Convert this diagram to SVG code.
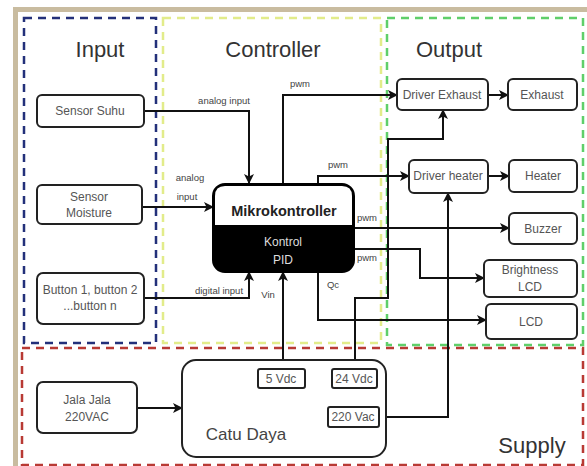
<svg xmlns="http://www.w3.org/2000/svg" width="587" height="466" viewBox="0 0 587 466">
<style>
.zone{fill:none;stroke-width:2.5;stroke-dasharray:8 6}
.title{font-family:"Liberation Sans",Arial,sans-serif;font-size:22px;fill:#333;text-anchor:middle}
.box{fill:#fff;stroke:#222;stroke-width:2}
.lbl{font-family:"Liberation Sans",Arial,sans-serif;font-size:12px;fill:#555;text-anchor:middle}
.cl{font-family:"Liberation Sans",Arial,sans-serif;font-size:9.5px;fill:#444;text-anchor:middle}
.con{fill:none;stroke:#111;stroke-width:2}
</style>
<defs>
<marker id="ah" markerUnits="userSpaceOnUse" markerWidth="10" markerHeight="10" refX="9" refY="5" orient="auto">
<path d="M0,0 L10,5 L0,10 L2.5,5 Z" fill="#111"/>
</marker>
</defs>
<rect width="587" height="466" fill="#fff"/>
<rect x="13" y="7" width="574" height="5" fill="#c9bca0"/>
<rect x="13" y="7" width="5" height="459" fill="#c9bca0"/>

<g id="zone-input"><rect class="zone" x="24" y="18" width="132" height="325" stroke="#23307a"/><text class="title" x="100" y="57">Input</text></g>
<g id="zone-controller"><rect class="zone" x="163" y="18" width="218" height="325" stroke="#e2ec8a"/><text class="title" x="273" y="57">Controller</text></g>
<g id="zone-output"><rect class="zone" x="387" y="18" width="196" height="327" stroke="#5fcf6a"/><text class="title" x="449" y="57">Output</text></g>
<g id="zone-supply"><rect class="zone" x="22" y="348" width="561" height="117" stroke="#b83a34"/><text class="title" x="532" y="453">Supply</text></g>

<g id="connectors">
<path class="con" d="M144,111 H249 V183" marker-end="url(#ah)"/>
<path class="con" d="M142,207 H213" marker-end="url(#ah)"/>
<path class="con" d="M144,298 H249 V272" marker-end="url(#ah)"/>
<path class="con" d="M283,183 V95 H397" marker-end="url(#ah)"/>
<path class="con" d="M318,183 V176 H409" marker-end="url(#ah)"/>
<path class="con" d="M354,228 H509" marker-end="url(#ah)"/>
<path class="con" d="M354,249 H420 V278 H484" marker-end="url(#ah)"/>
<path class="con" d="M318,272 V320 H486" marker-end="url(#ah)"/>
<path class="con" d="M283,360 V272" marker-end="url(#ah)"/>
<path class="con" d="M355,360 V298 H388 V139 H443 V110" marker-end="url(#ah)"/>
<path class="con" d="M386,417 H448 V193" marker-end="url(#ah)"/>
<path class="con" d="M137,408 H182" marker-end="url(#ah)"/>
<path class="con" d="M488,95 H508" marker-end="url(#ah)"/>
<path class="con" d="M488,176 H509" marker-end="url(#ah)"/>
<text class="cl" x="224" y="104">analog input</text>
<text class="cl" x="190" y="181">analog</text>
<text class="cl" x="187" y="200">input</text>
<text class="cl" x="219" y="294">digital input</text>
<text class="cl" x="300" y="87">pwm</text>
<text class="cl" x="338" y="168">pwm</text>
<text class="cl" x="367" y="221">pwm</text>
<text class="cl" x="367" y="261">pwm</text>
<text class="cl" x="333" y="288">Qc</text>
<text class="cl" x="268" y="298">Vin</text>
</g>

<g id="sensor-suhu"><rect class="box" x="37" y="95" width="107" height="32" rx="5"/><text class="lbl" x="90" y="115">Sensor Suhu</text></g>
<g id="sensor-moisture"><rect class="box" x="37" y="185" width="105" height="39" rx="5"/><text class="lbl" x="89" y="201">Sensor</text><text class="lbl" x="89" y="217">Moisture</text></g>
<g id="button"><rect class="box" x="37" y="273" width="107" height="51" rx="6"/><text class="lbl" x="90" y="294">Button 1, button 2</text><text class="lbl" x="90" y="310">...button n</text></g>

<g id="mikrokontroller">
<rect x="213" y="184" width="141" height="88" rx="12" fill="#000" stroke="#000" stroke-width="2"/>
<path d="M215,225 V196 Q215,186 225,186 H342 Q352,186 352,196 V225 Z" fill="#fff"/>
<text x="284" y="216" font-family="Liberation Sans,Arial,sans-serif" font-size="14.5" font-weight="bold" fill="#222" text-anchor="middle">Mikrokontroller</text>
<text x="283" y="246" font-family="Liberation Sans,Arial,sans-serif" font-size="12" fill="#ddd" text-anchor="middle">Kontrol</text>
<text x="283" y="264" font-family="Liberation Sans,Arial,sans-serif" font-size="12" fill="#ddd" text-anchor="middle">PID</text>
</g>

<g id="driver-exhaust"><rect class="box" x="397" y="79" width="91" height="31" rx="5"/><text class="lbl" x="442" y="99">Driver Exhaust</text></g>
<g id="exhaust"><rect class="box" x="508" y="79" width="69" height="31" rx="5"/><text class="lbl" x="542" y="99">Exhaust</text></g>
<g id="driver-heater"><rect class="box" x="409" y="160" width="79" height="33" rx="5"/><text class="lbl" x="448" y="180">Driver heater</text></g>
<g id="heater"><rect class="box" x="509" y="160" width="68" height="32" rx="5"/><text class="lbl" x="543" y="180">Heater</text></g>
<g id="buzzer"><rect class="box" x="509" y="213" width="68" height="31" rx="5"/><text class="lbl" x="543" y="233">Buzzer</text></g>
<g id="brightness-lcd"><rect class="box" x="484" y="260" width="93" height="37" rx="5"/><text class="lbl" x="530" y="274">Brightness</text><text class="lbl" x="530" y="291">LCD</text></g>
<g id="lcd"><rect class="box" x="486" y="304" width="91" height="35" rx="5"/><text class="lbl" x="531" y="326">LCD</text></g>

<g id="jala-jala"><rect class="box" x="37" y="382" width="100" height="51" rx="6"/><text class="lbl" x="87" y="404">Jala Jala</text><text class="lbl" x="87" y="421">220VAC</text></g>
<g id="catu-daya">
<rect class="box" x="182" y="360" width="204" height="97" rx="14"/>
<text x="246" y="440" font-family="Liberation Sans,Arial,sans-serif" font-size="17" fill="#444" text-anchor="middle">Catu Daya</text>
<rect class="box" x="258" y="369" width="47" height="19" rx="2"/><text class="lbl" x="281" y="383">5 Vdc</text>
<rect class="box" x="332" y="369" width="45" height="19" rx="2"/><text class="lbl" x="354" y="383">24 Vdc</text>
<rect class="box" x="328" y="407" width="51" height="20" rx="2"/><text class="lbl" x="353" y="421">220 Vac</text>
</g>
</svg>
